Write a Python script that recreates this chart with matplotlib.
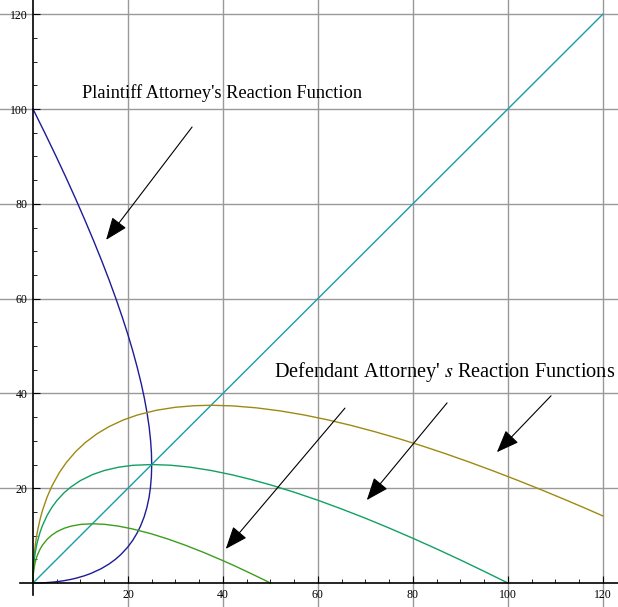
import matplotlib
matplotlib.use('Agg')
import matplotlib.pyplot as plt

# Plaintiff reaction function (x as a function of y)
plaintiff_y = [0, 0.02, 0.05, 0.1, 0.2, 0.35, 0.5, 0.75, 1, 1.5, 2, 3, 4, 5, 6, 7.5, 9, 10.5, 12, 14,
               16, 18, 20, 22.5, 25, 27.5, 30, 33, 36, 39, 42, 45.5, 49, 52.5, 56, 60, 64, 68, 72,
               76.5, 81, 85.5, 90, 95, 100]
plaintiff_x = [0, 1.39, 2.19, 3.06, 4.27, 5.57, 6.57, 7.91, 9, 10.75, 12.14, 14.32, 16, 17.36, 18.49,
               19.89, 21, 21.90, 22.64, 23.42, 24, 24.43, 24.72, 24.93, 25, 24.94, 24.77, 24.45, 24,
               23.45, 22.81, 21.95, 21, 19.96, 18.83, 17.46, 16, 14.46, 12.85, 10.96, 9, 6.97, 4.87,
               2.47, 0]

# Defendant reaction functions (three cases)
def_low_x = [0, 0.02, 0.05, 0.1, 0.2, 0.35, 0.5, 0.75, 1, 1.5, 2, 3, 4, 5, 6.5, 8, 10, 12.5, 15, 18,
             21, 25, 28.5, 32, 36, 40, 42.5, 45, 47.5, 50]
def_low_y = [0, 0.98, 1.53, 2.14, 2.96, 3.83, 4.5, 5.37, 6.07, 7.16, 8, 9.25, 10.14, 10.81, 11.53, 12,
             12.36, 12.5, 12.39, 12, 11.40, 10.36, 9.25, 8, 6.43, 4.72, 3.60, 2.43, 1.23, 0]

def_mid_x = [0, 0.02, 0.05, 0.1, 0.2, 0.35, 0.5, 0.75, 1, 1.5, 2, 3, 4, 5, 6.5, 8, 10, 12.5, 15, 18,
             21, 25, 29, 33, 37.5, 42, 46, 50, 55, 60, 65, 70, 75, 80, 85, 90, 95, 100]
def_mid_y = [0, 1.39, 2.19, 3.06, 4.27, 5.57, 6.57, 7.91, 9, 10.75, 12.14, 14.32, 16, 17.36, 19.00,
             20.28, 21.62, 22.86, 23.73, 24.43, 24.83, 25, 24.85, 24.45, 23.74, 22.81, 21.82, 20.71,
             19.16, 17.46, 15.62, 13.67, 11.60, 9.44, 7.20, 4.87, 2.47, 0]

def_high_x = [0, 0.02, 0.05, 0.1, 0.2, 0.35, 0.5, 0.75, 1, 1.5, 2, 3, 4, 5.5, 7, 9, 11, 13.5, 16, 19,
              22, 26, 30, 34, 37.5, 42, 47, 52, 57, 62, 67, 72, 77, 82, 87, 92, 97, 102, 107, 112,
              116, 120]
def_high_y = [0, 1.71, 2.69, 3.77, 5.28, 6.90, 8.16, 9.86, 11.25, 13.5, 15.32, 18.21, 20.49, 23.22,
              25.40, 27.74, 29.62, 31.5, 32.99, 34.39, 35.45, 36.45, 37.08, 37.41, 37.5, 37.37, 36.96,
              36.32, 35.47, 34.44, 33.25, 31.92, 30.47, 28.91, 27.24, 25.47, 23.62, 21.69, 19.69,
              17.61, 15.91, 14.16]

diag = [0, 120]

# arrows: (tail, head)
arrows = [((33.5, 96.2), (15.4, 72.4)),
          ((65.7, 36.9), (40.6, 7.2)),
          ((87.2, 38.0), (70.3, 17.5)),
          ((109.1, 39.5), (97.7, 27.6))]

ticks = [20, 40, 60, 80, 100, 120]
minor = [v for v in range(5, 125, 5) if v % 20 != 0]

plt.rcParams['mathtext.fontset'] = 'stix'

fig = plt.figure(figsize=(6.18, 6.07), dpi=100)
ax = fig.add_axes([0, 0, 1, 1])
ax.set_xlim(-6.95, 123.2)
ax.set_ylim(-5.06, 123.0)

for t in ticks:
    ax.axvline(t, color='#999999', lw=1.0, zorder=0)
    ax.axhline(t, color='#999999', lw=1.0, zorder=0)

ax.plot(plaintiff_x, plaintiff_y, color='#1c1c96', lw=1.0)
ax.plot(diag, diag, color='#1a9aae', lw=1.0)
ax.plot(def_high_x, def_high_y, color='#9e8a12', lw=1.0)
ax.plot(def_mid_x, def_mid_y, color='#12a062', lw=1.0)
ax.plot(def_low_x, def_low_y, color='#3c9e1c', lw=1.0)

for (tx, ty), (hx, hy) in arrows:
    ax.annotate('', xy=(hx, hy), xytext=(tx, ty),
                arrowprops=dict(arrowstyle='-|>,head_length=1.4,head_width=0.55',
                                color='black', lw=0.8, shrinkA=0, shrinkB=0))

ax.text(10.3, 103.4, "Plaintiff Attorney's Reaction Function", family='Liberation Serif',
        fontsize=13.2, va='center', ha='left')
# the reference itself runs this label off the right edge
ax.text(50.7, 44.6, r"Defendant Attorney' $s$ Reaction Functions", family='Liberation Serif',
        fontsize=14.6, va='center', ha='left')

for s in ['top', 'right']:
    ax.spines[s].set_visible(False)
ax.spines['left'].set_position(('data', 0))
ax.spines['bottom'].set_position(('data', 0))
ax.spines['left'].set_bounds(-2.5, 123.0)
ax.spines['bottom'].set_bounds(-2.7, 123.2)
ax.spines['left'].set_linewidth(1.2)
ax.spines['bottom'].set_linewidth(1.2)

ax.set_xticks(ticks)
ax.set_yticks(ticks)
ax.set_xticks(minor, minor=True)
ax.set_yticks(minor, minor=True)
ax.tick_params(which='major', direction='in', length=5, width=0.8, labelsize=8.5, pad=4)
ax.tick_params(which='minor', direction='in', length=3, width=0.6)
for lab in ax.get_xticklabels() + ax.get_yticklabels():
    lab.set_family('Liberation Serif')

fig.savefig('out.png', dpi=100)
